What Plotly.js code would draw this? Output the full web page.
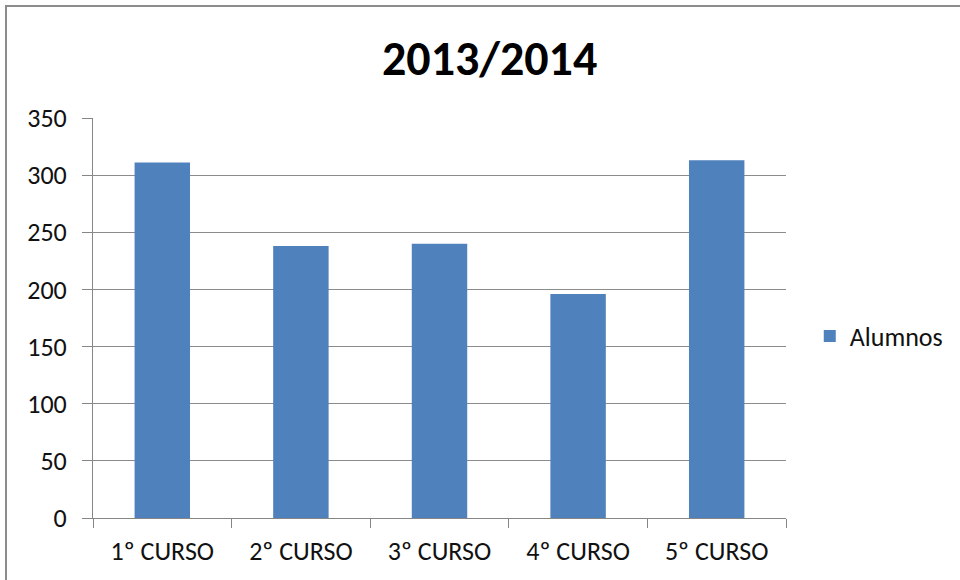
<!DOCTYPE html>
<html>
<head>
<meta charset="utf-8">
<script src="https://cdn.plot.ly/plotly-3.0.1.min.js"></script>
<style>
  html, body { margin: 0; padding: 0; background: #fff; overflow: hidden; }
  #frame { position: absolute; left: 5px; top: 5px; width: 1000px; height: 700px; border: 2px solid #8c8c8c; box-sizing: border-box; }
  #chart { position: absolute; left: 0; top: 0; width: 960px; height: 580px; }
</style>
</head>
<body>
<div id="frame"></div>
<div id="chart"></div>
<script>
const categories = ["1º CURSO", "2º CURSO", "3º CURSO", "4º CURSO", "5º CURSO"];
const alumnos = [311, 238, 240, 196, 313];
const yTicks = [0, 50, 100, 150, 200, 250, 300, 350];
const seriesName = "Alumnos";
const chartTitle = "2013/2014";

const font = "Carlito, 'Open Sans', 'Noto Sans', sans-serif";

Plotly.newPlot("chart", [{
  type: "bar",
  x: categories,
  y: alumnos,
  name: seriesName,
  marker: { color: "#4f81bd", line: { color: "#4f81bd", width: 0 } },
  showlegend: true
}], {
  width: 960, height: 580,
  paper_bgcolor: "rgba(0,0,0,0)",
  plot_bgcolor: "rgba(0,0,0,0)",
  margin: { l: 93, r: 174, t: 118, b: 62, autoexpand: false },
  bargap: 0.6,
  title: { text: "<b>" + chartTitle + "</b>", font: { family: font, size: 48, color: "#000" }, xref: "container", x: 0.51, xanchor: "center", yref: "container", y: 0.9, yanchor: "middle" },
  xaxis: {
    type: "category", automargin: false,
    showline: true, linecolor: "#868686", linewidth: 1,
    ticks: "outside", tickson: "boundaries", ticklen: 9, tickcolor: "#868686",
    ticklabelstandoff: 10,
    tickfont: { family: font, size: 26, color: "#111" },
    showgrid: false, zeroline: false
  },
  yaxis: {
    range: [0, 350], tickvals: yTicks, automargin: false,
    showline: true, linecolor: "#868686", linewidth: 1,
    ticks: "outside", ticklen: 10, tickcolor: "#868686",
    ticklabelstandoff: 10,
    tickfont: { family: font, size: 26, color: "#111" },
    showgrid: true, gridcolor: "#8c8c8c", gridwidth: 1,
    zeroline: false
  },
  legend: {
    xref: "container", x: 0.8435, xanchor: "left", y: 0.455, yanchor: "middle",
    font: { family: font, size: 26, color: "#111" },
    itemwidth: 30
  }
}, { displayModeBar: false, staticPlot: true });
</script>
</body>
</html>
